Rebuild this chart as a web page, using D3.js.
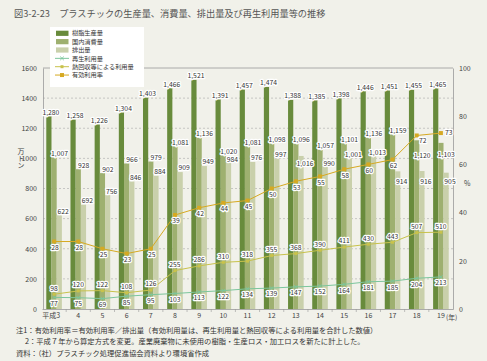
<!DOCTYPE html>
<html>
<head>
<meta charset="utf-8">
<script src="https://cdn.jsdelivr.net/npm/d3@7"></script>
<style>
  body { margin: 0; background: #f1f1ea; }
  svg { display: block; font-family: "Noto Sans CJK JP", "Noto Sans", sans-serif; }
</style>
</head>
<body>
<script>
// Data
const years = ["平成3", "4", "5", "6", "7", "8", "9", "10", "11", "12", "13", "14", "15", "16", "17", "18", "19"];
const production = [1280, 1258, 1226, 1304, 1403, 1466, 1521, 1391, 1457, 1474, 1388, 1385, 1398, 1446, 1451, 1455, 1465];
const consumption = [1007, 928, 902, 966, 979, 1081, 1136, 1020, 1081, 1098, 1096, 1057, 1101, 1136, 1159, 1120, 1103];
const discharge = [622, 692, 756, 846, 884, 909, 949, 984, 976, 997, 1016, 990, 1001, 1013, 914, 916, 905];
const recycled = [77, 75, 69, 85, 95, 103, 113, 122, 134, 139, 147, 152, 164, 181, 185, 204, 213];
const heatRecovery = [98, 120, 122, 108, 126, 255, 286, 310, 318, 355, 368, 390, 411, 430, 443, 507, 510];
const effectiveRate = [28, 28, 25, 23, 25, 39, 42, 44, 45, 50, 53, 55, 58, 60, 62, 72, 73];
const leftTicks = [0, 200, 400, 600, 800, 1000, 1200, 1400, 1600];
const rightTicks = [0, 20, 40, 60, 80, 100];

const W = 487, H = 361;
const svg = d3.select("body").append("svg").attr("width", W).attr("height", H);

const x = d3.scaleBand().domain(years).range([42, 453]);
const y = d3.scaleLinear().domain([0, 1600]).range([309, 68]);
const yR = d3.scaleLinear().domain([0, 100]).range([309, 68]);
const sub = d3.scaleBand().domain(["p", "c", "d"]).range([0, 15.6]);
const cx = d => x(d) + x.bandwidth() / 2;

const colors = { p: "#688b3c", c: "#9eb070", d: "#c9d0ab" };
const lineColors = { rec: "#7cc69c", heat: "#c8c24c", rate: "#d6a922" };

// title
svg.append("text").attr("x", 14).attr("y", 17)
  .attr("font-size", 9.2).attr("fill", "#555")
  .text("図3-2-23　プラスチックの生産量、消費量、排出量及び再生利用量等の推移");

// gridlines
svg.append("g").selectAll("line").data(leftTicks.filter(t => t > 0 && t < 1600)).join("line")
  .attr("x1", 43).attr("x2", 453).attr("y1", d => y(d)).attr("y2", d => y(d))
  .attr("stroke", "#aaa").attr("stroke-width", 0.6).attr("stroke-dasharray", "2,2");
// top frame line
svg.append("line").attr("x1", 43).attr("x2", 453).attr("y1", y(1600)).attr("y2", y(1600))
  .attr("stroke", "#999").attr("stroke-width", 0.8);

// bars
const series = [["p", production], ["c", consumption], ["d", discharge]];
series.forEach(([key, vals]) => {
  svg.append("g").selectAll("rect").data(vals).join("rect")
    .attr("x", (v, i) => cx(years[i]) - 7.8 + sub(key))
    .attr("y", v => y(v))
    .attr("width", sub.bandwidth())
    .attr("height", v => y(0) - y(v))
    .attr("fill", colors[key]);
});

// axes
const axL = svg.append("g").attr("transform", "translate(43,0)")
  .call(d3.axisLeft(y).tickValues(leftTicks).tickFormat(d3.format("d")).tickSize(0).tickPadding(6));
const axR = svg.append("g").attr("transform", "translate(453,0)")
  .call(d3.axisRight(yR).tickValues(rightTicks).tickSize(0).tickPadding(6));
const axB = svg.append("g").attr("transform", "translate(0,309)")
  .call(d3.axisBottom(x).tickSize(0).tickPadding(4));
[axL, axR, axB].forEach(g => {
  g.select(".domain").attr("stroke", "#999").attr("stroke-width", 0.8);
  g.selectAll("text").attr("font-size", 7).attr("fill", "#444").attr("font-family", "Noto Sans CJK JP");
});
axB.selectAll(".tick text").filter((d, i) => i === 0).attr("dx", -3);
// small ticks between categories
svg.append("g").selectAll("line").data(years.slice(1)).join("line")
  .attr("x1", d => x(d)).attr("x2", d => x(d)).attr("y1", 309).attr("y2", 312)
  .attr("stroke", "#999").attr("stroke-width", 0.6);

svg.append("text").attr("x", 446).attr("y", 320).attr("font-size", 6.8).attr("fill", "#444").text("(年)");
svg.append("text").attr("x", 464).attr("y", 186).attr("font-size", 7).attr("fill", "#444").text("%");
svg.append("text").attr("x", 21).attr("y", 148).attr("font-size", 7).attr("fill", "#444")
  .style("writing-mode", "vertical-rl").text("万トン");

// lines
function drawLine(vals, scale, color, marker) {
  svg.append("path").datum(vals)
    .attr("fill", "none").attr("stroke", color).attr("stroke-width", 1)
    .attr("d", d3.line().x((v, i) => cx(years[i])).y(v => scale(v)));
  const g = svg.append("g");
  vals.forEach((v, i) => {
    const px = cx(years[i]), py = scale(v);
    if (marker === "x") {
      g.append("path").attr("d", `M${px - 1.8},${py - 1.8}L${px + 1.8},${py + 1.8}M${px - 1.8},${py + 1.8}L${px + 1.8},${py - 1.8}`)
        .attr("stroke", color).attr("stroke-width", 0.9);
    } else {
      const s = marker === "big" ? 4 : 3;
      g.append("rect").attr("x", px - s / 2).attr("y", py - s / 2).attr("width", s).attr("height", s).attr("fill", color);
    }
  });
}
drawLine(recycled, y, lineColors.rec, "x");
drawLine(heatRecovery, y, lineColors.heat, "small");
drawLine(effectiveRate, yR, lineColors.rate, "big");

// value labels
const fmt = d3.format(",");
const labels = svg.append("g").attr("font-size", 6.8).attr("fill", "#333")
  .attr("text-anchor", "middle").attr("stroke", "#fff").attr("stroke-width", 2.4)
  .attr("stroke-linejoin", "round").attr("paint-order", "stroke");
function label(px, py, t, anchor) {
  labels.append("text").attr("x", px).attr("y", py).attr("dy", "0.35em")
    .attr("text-anchor", anchor || "middle").text(t);
}
// labels that sit lower than the usual spot just above the bar
const consumptionShift = { 15: 15, 16: 12 };
const dischargeShift = { 7: -1, 10: 8, 11: 4, 14: 10, 15: 11, 16: 9 };
years.forEach((yr, i) => {
  const gx = cx(yr) - 7.8;
  label(gx + sub("p") + 4.6, y(production[i]) - 4, fmt(production[i]));
  const cdy = consumptionShift[i] != null ? consumptionShift[i] : -4;
  label(gx + sub("c") + 8, y(consumption[i]) + cdy, fmt(consumption[i]));
  const ddy = dischargeShift[i] != null ? dischargeShift[i] : -4;
  label(gx + sub("d") + 6.5, y(discharge[i]) + ddy, fmt(discharge[i]));
  label(cx(yr), y(recycled[i]) + 6, recycled[i]);
  label(cx(yr), y(heatRecovery[i]) - 6, heatRecovery[i]);
  if (i === 16) label(cx(yr) + 4, yR(effectiveRate[i]), effectiveRate[i], "start");
  else if (i === 15) label(cx(yr) + 6, yR(effectiveRate[i]) + 5, effectiveRate[i]);
  else label(cx(yr) + 1, yR(effectiveRate[i]) + 6, effectiveRate[i]);
});

// legend
const legendItems = [
  { name: "樹脂生産量", type: "bar", color: colors.p },
  { name: "国内消費量", type: "bar", color: colors.c },
  { name: "排出量", type: "bar", color: colors.d },
  { name: "再生利用量", type: "x", color: lineColors.rec },
  { name: "熱回収等による利用量", type: "small", color: lineColors.heat },
  { name: "有効利用率", type: "big", color: lineColors.rate }
];
const lg = svg.append("g");
lg.append("rect").attr("x", 50).attr("y", 27).attr("width", 94).attr("height", 60).attr("fill", "#fff");
legendItems.forEach((it, i) => {
  const ly = 33.3 + i * 8.35;
  if (it.type === "bar") {
    lg.append("rect").attr("x", 56).attr("y", ly - 2.6).attr("width", 12.5).attr("height", 5.2).attr("fill", it.color);
  } else {
    lg.append("line").attr("x1", 55).attr("x2", 69).attr("y1", ly).attr("y2", ly).attr("stroke", it.color).attr("stroke-width", 1);
    if (it.type === "x") {
      lg.append("path").attr("d", `M60.2,${ly - 1.8}L63.8,${ly + 1.8}M60.2,${ly + 1.8}L63.8,${ly - 1.8}`).attr("stroke", it.color).attr("stroke-width", 0.9);
    } else {
      const s = it.type === "big" ? 4 : 3;
      lg.append("rect").attr("x", 62 - s / 2).attr("y", ly - s / 2).attr("width", s).attr("height", s).attr("fill", it.color);
    }
  }
  lg.append("text").attr("x", 72).attr("y", ly).attr("dy", "0.35em").attr("font-size", 6.2).attr("fill", "#333").text(it.name);
});

// notes
const notes = [
  [16, "注1：有効利用率＝有効利用率／排出量（有効利用量は、再生利用量と熱回収等による利用量を合計した数値）"],
  [16, "　 2：平成７年から算定方式を変更。産業廃棄物に未使用の樹脂・生産ロス・加工ロスを新たに計上した。"],
  [16, "資料：（社）プラスチック処理促進協会資料より環境省作成"]
];
svg.append("g").selectAll("text").data(notes).join("text")
  .attr("x", d => d[0]).attr("y", (d, i) => 330 + i * 11.5).attr("dy", "0.35em")
  .attr("font-size", 7.3).attr("fill", "#333").text(d => d[1]);
</script>
</body>
</html>
